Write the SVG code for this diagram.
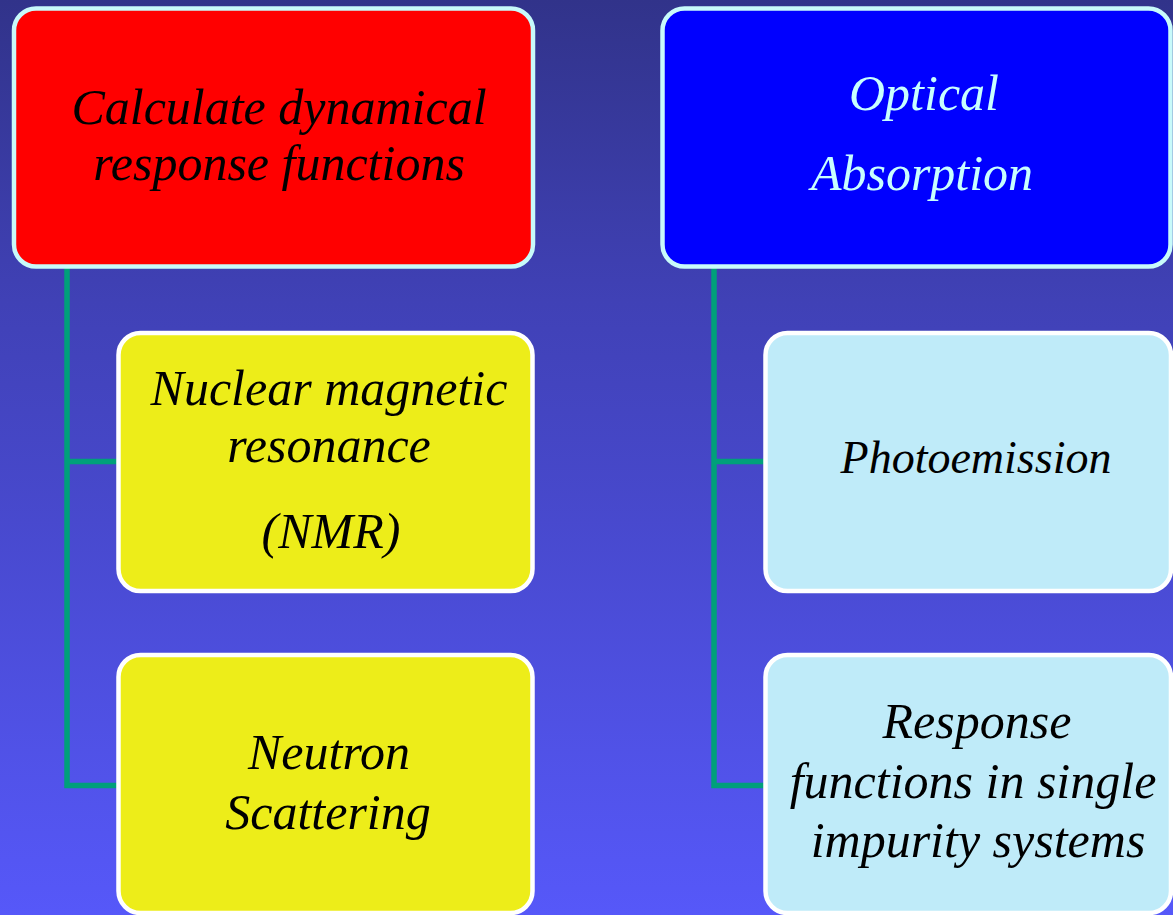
<svg xmlns="http://www.w3.org/2000/svg" width="1173" height="915" viewBox="0 0 1173 915">
  <defs>
    <linearGradient id="bg" x1="0" y1="0" x2="0" y2="1">
      <stop offset="0" stop-color="#31338a"/>
      <stop offset="0.33" stop-color="#4041b6"/>
      <stop offset="1" stop-color="#5658f9"/>
    </linearGradient>
  </defs>
  <style>
    .box { stroke-width: 4.5; }
    .red { fill: #ff0000; stroke: #c8fafa; }
    .blue { fill: #0000ff; stroke: #c8fafa; }
    .yellow { fill: #eded19; stroke: #ffffff; }
    .lblue { fill: #bfebf9; stroke: #ffffff; }
    .t { font-family: "Liberation Serif", "DejaVu Serif", serif; font-style: italic; font-size: 50px; text-anchor: middle; fill: #000000; }
    .tw { fill: #c8ffff; }
    .conn { fill: none; stroke: #00a07a; stroke-width: 5.5; }
  </style>
  <rect x="0" y="0" width="1173" height="915" fill="url(#bg)"/>

  <g id="connectors">
    <path class="conn" d="M67 267 V785.5 H117 M67 461.5 H117"/>
    <path class="conn" d="M714 267 V785.5 H764 M714 461.5 H764"/>
  </g>

  <g id="node-calculate">
    <rect class="box red" x="14" y="8.5" width="519" height="258" rx="22"/>
    <text class="t" x="279" y="124">Calculate dynamical</text>
    <text class="t" x="279" y="180">response functions</text>
  </g>

  <g id="node-optical">
    <rect class="box blue" x="662.5" y="8.5" width="508" height="258" rx="22"/>
    <text class="t tw" x="924" y="110">Optical</text>
    <text class="t tw" x="922" y="190">Absorption</text>
  </g>

  <g id="node-nmr">
    <rect class="box yellow" x="118.5" y="333" width="414" height="258" rx="22"/>
    <text class="t" x="329" y="405">Nuclear magnetic</text>
    <text class="t" x="329" y="462">resonance</text>
    <text class="t" x="331" y="548">(NMR)</text>
  </g>

  <g id="node-neutron">
    <rect class="box yellow" x="118.5" y="655" width="414" height="258" rx="22"/>
    <text class="t" x="329" y="769">Neutron</text>
    <text class="t" x="328" y="829">Scattering</text>
  </g>

  <g id="node-photoemission">
    <rect class="box lblue" x="765.5" y="333" width="405.5" height="258" rx="22"/>
    <text class="t" x="976" y="473" style="font-size:46px">Photoemission</text>
  </g>

  <g id="node-response">
    <rect class="box lblue" x="765.5" y="655" width="405.5" height="258" rx="22"/>
    <text class="t" x="977" y="738">Response</text>
    <text class="t" x="973" y="798">functions in single</text>
    <text class="t" x="978" y="857">impurity systems</text>
  </g>
</svg>
